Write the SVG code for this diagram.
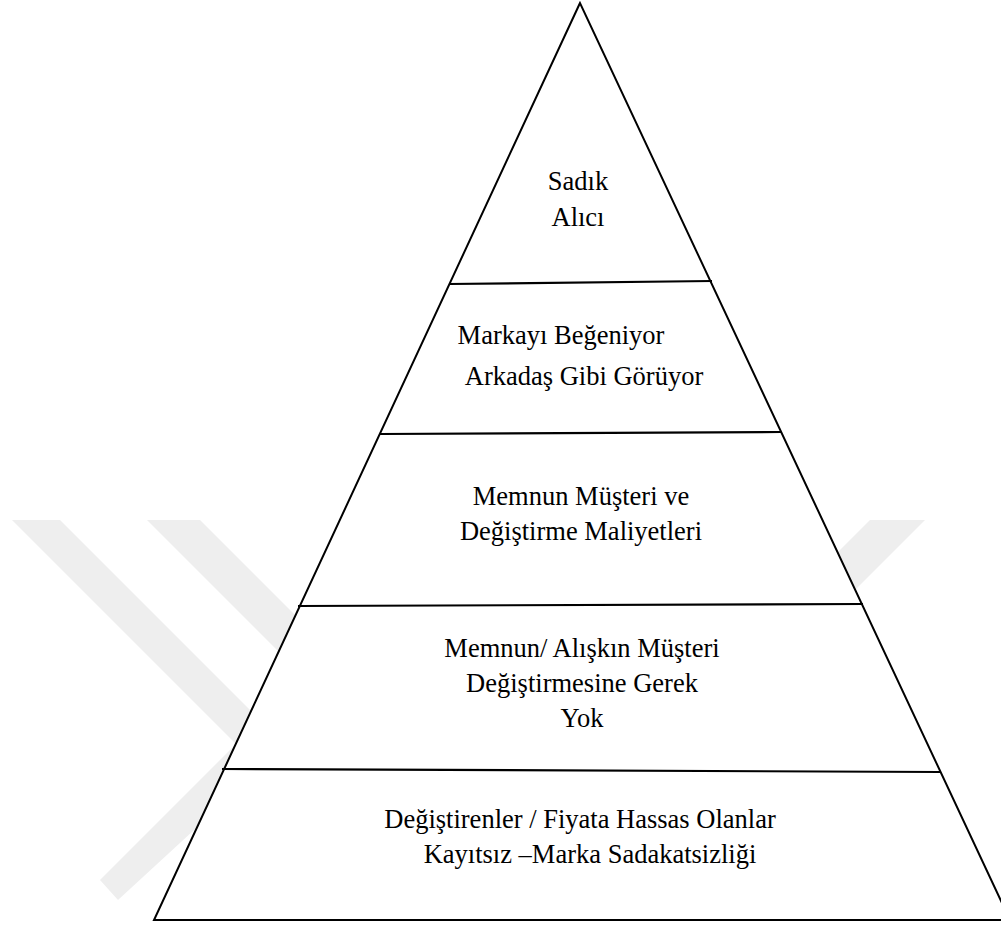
<svg xmlns="http://www.w3.org/2000/svg" width="1001" height="926" viewBox="0 0 1001 926">
  <style>
    .mark { fill: #eeeeee; }
    .outline { fill: #ffffff; stroke: #000000; stroke-width: 2; stroke-linejoin: miter; }
    .divider { fill: none; stroke: #000000; stroke-width: 2.2; }
    .label { font-family: "Liberation Serif", "Times New Roman", serif; font-size: 26.5px; fill: #000000; text-anchor: middle; }
  </style>
  <rect width="1001" height="926" fill="#ffffff"/>

  <!-- faint background mark, partly hidden by the pyramid -->
  <g id="background-mark">
    <polygon class="mark" points="12,520 60,520 420,880 372,880"/>
    <polygon class="mark" points="147,520 200,520 520,840 467,840"/>
    <polygon class="mark" points="870,520 925,520 700,745 645,745"/>
    <polygon class="mark" points="100,880 300,680 330,705 118,900"/>
  </g>

  <!-- pyramid body -->
  <g id="pyramid">
    <polygon class="outline" points="580,3 154,920 1010,920"/>
  </g>

  <!-- level dividers -->
  <g id="dividers">
    <line class="divider" x1="449" y1="284" x2="712" y2="281"/>
    <line class="divider" x1="380" y1="434" x2="781" y2="432"/>
    <line class="divider" x1="298" y1="606" x2="863" y2="604"/>
    <line class="divider" x1="222" y1="769" x2="940" y2="772"/>
  </g>

  <g id="level-1">
    <text class="label" x="578" y="190">Sadık</text>
    <text class="label" x="578" y="226">Alıcı</text>
  </g>

  <g id="level-2">
    <text class="label" x="561" y="344">Markayı Beğeniyor</text>
    <text class="label" x="584" y="385">Arkadaş Gibi Görüyor</text>
  </g>

  <g id="level-3">
    <text class="label" x="581" y="505">Memnun Müşteri ve</text>
    <text class="label" x="581" y="540">Değiştirme Maliyetleri</text>
  </g>

  <g id="level-4">
    <text class="label" x="582" y="657">Memnun/ Alışkın Müşteri</text>
    <text class="label" x="582" y="692">Değiştirmesine Gerek</text>
    <text class="label" x="582" y="727">Yok</text>
  </g>

  <g id="level-5">
    <text class="label" x="580" y="828">Değiştirenler / Fiyata Hassas Olanlar</text>
    <text class="label" x="590" y="863">Kayıtsız –Marka Sadakatsizliği</text>
  </g>
</svg>
